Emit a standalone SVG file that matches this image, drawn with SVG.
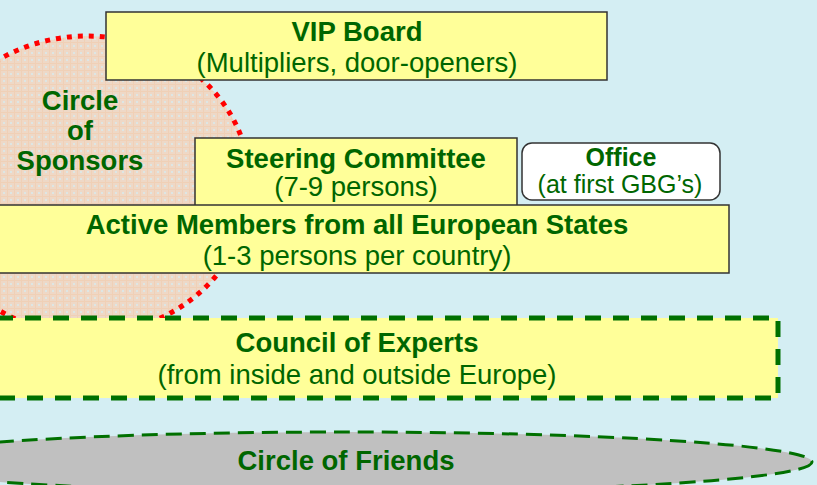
<svg xmlns="http://www.w3.org/2000/svg" width="817" height="485" viewBox="0 0 817 485">
<style>
.box{fill:#ffff99;stroke:#333333;stroke-width:1.5}
.t{font-family:"Liberation Sans",Arial,sans-serif;fill:#006600;text-anchor:middle}
.b{font-weight:bold;font-size:27.5px}
.r{font-size:27.5px}
.sb{font-weight:bold;font-size:25px}
.sr{font-size:25px}
</style>
<defs>
<pattern id="peach" width="7" height="7" patternUnits="userSpaceOnUse">
<rect width="7" height="7" fill="#eed8c6"/>
<rect x="0" y="0" width="7" height="1" fill="#f0d0b6"/>
<rect x="0" y="0" width="1" height="7" fill="#f0d0b6"/>
<rect x="3" y="3" width="2" height="2" fill="#dde6e4"/>
</pattern>
</defs>
<rect width="817" height="485" fill="#d4eef3"/>
<g id="sponsors">
<ellipse cx="87" cy="185" rx="163" ry="149" fill="url(#peach)" stroke="#ff0000" stroke-width="5" stroke-dasharray="5 6"/>
<text class="t b" x="80" y="110">Circle</text>
<text class="t b" x="80" y="140">of</text>
<text class="t b" x="80" y="170">Sponsors</text>
</g>
<g id="vip">
<rect class="box" x="106" y="12" width="501" height="68"/>
<text class="t b" x="357" y="41">VIP Board</text>
<text class="t r" x="357" y="72">(Multipliers, door-openers)</text>
</g>
<g id="steering">
<rect class="box" x="195" y="138" width="322" height="70"/>
<text class="t b" x="356" y="168">Steering Committee</text>
<text class="t r" x="356" y="196">(7-9 persons)</text>
</g>
<g id="office">
<rect x="522" y="143" width="198" height="57" rx="10" fill="#ffffff" stroke="#333333" stroke-width="1.5"/>
<text class="t sb" x="621" y="166">Office</text>
<text class="t sr" x="620" y="193">(at first GBG’s)</text>
</g>
<g id="active">
<rect class="box" x="-2" y="205" width="731" height="68"/>
<text class="t b" x="357" y="234">Active Members from all European States</text>
<text class="t r" x="357" y="265">(1-3 persons per country)</text>
</g>
<g id="council">
<rect x="-3" y="318" width="781" height="80" fill="#ffff99" stroke="#007000" stroke-width="5" stroke-dasharray="16 12"/>
<text class="t b" x="357" y="352">Council of Experts</text>
<text class="t r" x="357" y="384">(from inside and outside Europe)</text>
</g>
<g id="friends">
<ellipse cx="347" cy="462" rx="465" ry="30" fill="#c0c0c0" stroke="#007000" stroke-width="3" stroke-dasharray="16 8"/>
<text class="t b" x="346" y="470">Circle of Friends</text>
</g>
<g id="connectors"/>
</svg>
